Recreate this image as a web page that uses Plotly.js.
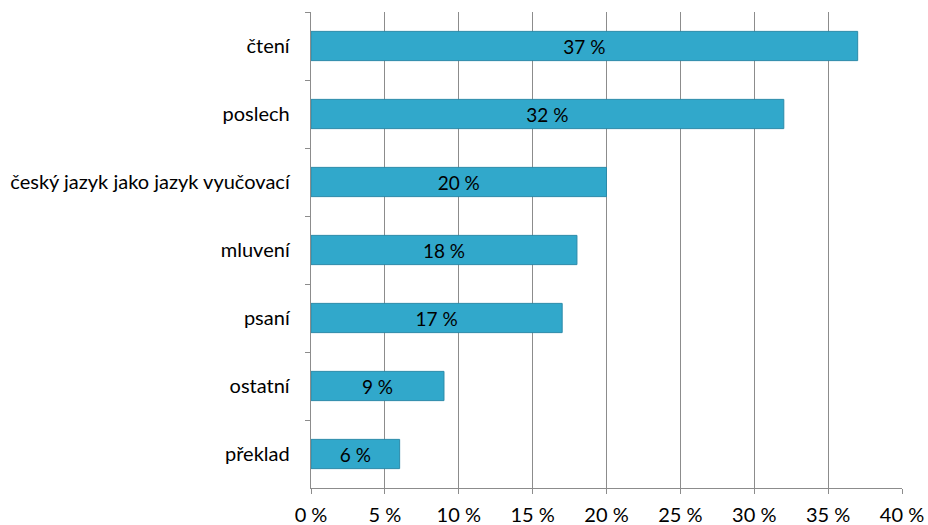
<!DOCTYPE html>
<html>
<head>
<meta charset="utf-8">
<script src="https://cdn.plot.ly/plotly-3.0.1.min.js"></script>
<style>html,body{margin:0;padding:0;background:#fff;}#chart{width:928px;height:525px;}</style>
</head>
<body>
<div id="chart"></div>
<script>
const categories = ["čtení", "poslech", "český jazyk jako jazyk vyučovací", "mluvení", "psaní", "ostatní", "překlad"];
const values = [37, 32, 20, 18, 17, 9, 6];
const labels = values.map(v => v + " %");
const xTickVals = [0, 5, 10, 15, 20, 25, 30, 35, 40];
const xTickText = xTickVals.map(v => v + " %");

const FONT = "Lato, 'Open Sans', sans-serif";

const trace = {
  type: "bar",
  orientation: "h",
  y: categories,
  x: values,
  text: labels,
  textposition: "inside",
  insidetextanchor: "middle",
  textangle: 0,
  textfont: {family: FONT, size: 19, color: "#000"},
  marker: {color: "#31a8cb", line: {color: "#2a8aa9", width: 1}},
  hoverinfo: "none",
  cliponaxis: false
};

const layout = {
  width: 928, height: 525,
  margin: {l: 311, r: 26, t: 12, b: 37},
  paper_bgcolor: "#fff", plot_bgcolor: "#fff",
  showlegend: false,
  bargap: 0.57,
  font: {family: FONT, size: 20, color: "#000"},
  uniformtext: {mode: "show", minsize: 19},
  xaxis: {
    range: [0, 40],
    tickvals: xTickVals, ticktext: xTickText,
    showgrid: true, gridcolor: "#8c8c8c", gridwidth: 1,
    zeroline: false,
    showline: true, linecolor: "#8c8c8c", linewidth: 1.3,
    ticks: "outside", ticklen: 5, tickcolor: "#8c8c8c",
    ticklabelstandoff: 4,
    fixedrange: true
  },
  yaxis: {
    type: "category",
    categoryorder: "array", categoryarray: categories,
    autorange: "reversed",
    tickson: "boundaries",
    showgrid: false, zeroline: false,
    showline: true, linecolor: "#8c8c8c", linewidth: 1.3,
    ticks: "outside", ticklen: 5, tickcolor: "#8c8c8c",
    ticklabelstandoff: 16,
    fixedrange: true
  }
};

Plotly.newPlot("chart", [trace], layout, {displayModeBar: false, staticPlot: true});
</script>
</body>
</html>
